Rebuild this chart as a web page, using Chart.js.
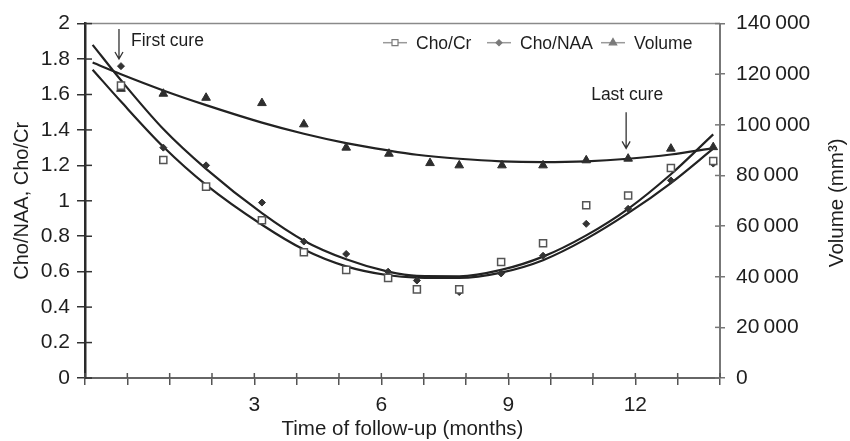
<!DOCTYPE html>
<html>
<head>
<meta charset="utf-8">
<script src="https://cdn.jsdelivr.net/npm/chart.js@4.4.1/dist/chart.umd.min.js"></script>
<style>
  html, body { margin: 0; padding: 0; background: #fff; }
  #wrap { width: 850px; height: 441px; }
</style>
</head>
<body>
<div id="wrap"><canvas id="chart"></canvas></div>
<script>
// Measured points (months of follow-up)
const choMonths = [-0.15, 0.85, 1.86, 3.18, 4.17, 5.17, 6.16, 6.84, 7.84, 8.83, 9.82, 10.84, 11.83, 12.84, 13.84];
const volMonths = [-0.15, 0.85, 1.86, 3.18, 4.17, 5.17, 6.18, 7.15, 7.84, 8.85, 9.82, 10.84, 11.83, 12.84, 13.84];
const choCr  = [1.65, 1.23, 1.08, 0.89, 0.71, 0.61, 0.565, 0.50, 0.50, 0.655, 0.76, 0.975, 1.03, 1.185, 1.225];
const choNaa = [1.76, 1.30, 1.20, 0.99, 0.77, 0.70, 0.60, 0.55, 0.485, 0.59, 0.69, 0.87, 0.955, 1.115, 1.21];
const volume = [114250, 112300, 110700, 108600, 100200, 91000, 88600, 84900, 84000, 84000, 84000, 86000, 86650, 90600, 91200];

// Trend lines
const trendMonths  = [-0.82, -0.15, 0.85, 1.86, 3.18, 4.17, 5.17, 6.16, 6.84, 7.84, 8.83, 9.82, 10.84, 11.83, 12.84, 13.84];
const choCrTrend   = [1.74, 1.56, 1.305, 1.09, 0.865, 0.725, 0.63, 0.58, 0.567, 0.565, 0.595, 0.665, 0.785, 0.93, 1.10, 1.294];
const choNaaTrend  = [1.88, 1.68, 1.405, 1.18, 0.93, 0.775, 0.67, 0.60, 0.576, 0.574, 0.61, 0.685, 0.805, 0.955, 1.15, 1.375];
const volumeTrend  = [124600, 120000, 113600, 107800, 100900, 96500, 92800, 89900, 88200, 86600, 85600, 85300, 85600, 86600, 88300, 90800];

const xTickLabels = [3, 6, 9, 12];

const FONT = 'Liberation Sans, Arial, Helvetica, sans-serif';
const TEXT = '#1e1e1e';

function pts(xs, ys) {
    return xs.map((x, i) => ({ x: x, y: ys[i] }));
}

function fmtThousands(v) {
    return String(v).replace(/\B(?=(\d{3})+(?!\d))/g, '\u2009');
}

// Arrows for first / last cure
const notes = [
    { text: 'First cure', month: -0.15, top: 1.97, tip: 1.80, textY: 1.899, side: 'right' },
    { text: 'Last cure', month: 11.83, top: 1.50, tip: 1.296, textY: 1.594, side: 'above' }
];

const decor = {
    id: 'decor',
    afterDatasetsDraw(chart) {
        const ctx = chart.ctx;
        const area = chart.chartArea;
        const x = chart.scales.x, y = chart.scales.y, y2 = chart.scales.y2;
        ctx.save();

        // top frame line
        ctx.strokeStyle = '#8a8a8a';
        ctx.lineWidth = 1.5;
        ctx.beginPath();
        ctx.moveTo(area.left, area.top);
        ctx.lineTo(area.right, area.top);
        ctx.stroke();

        // inner halves of the cross tick marks
        ctx.lineWidth = 1.5;
        ctx.strokeStyle = '#555';
        x.ticks.forEach(t => {
            const px = x.getPixelForValue(t.value);
            ctx.beginPath();
            ctx.moveTo(px, area.bottom);
            ctx.lineTo(px, area.bottom - 5);
            ctx.stroke();
        });
        ctx.strokeStyle = '#333';
        y.ticks.forEach(t => {
            const py = y.getPixelForValue(t.value);
            ctx.beginPath();
            ctx.moveTo(area.left, py);
            ctx.lineTo(area.left + 7, py);
            ctx.stroke();
        });
        ctx.strokeStyle = '#777';
        y2.ticks.forEach(t => {
            const py = y2.getPixelForValue(t.value);
            ctx.beginPath();
            ctx.moveTo(area.right, py);
            ctx.lineTo(area.right - 5, py);
            ctx.stroke();
        });

        // legend: short line with marker, Excel style
        const legendX = [383, 487, 601];
        const legendY = 42.7;
        ctx.font = '17.5px ' + FONT;
        ctx.textBaseline = 'middle';
        ctx.textAlign = 'left';
        [0, 1, 2].forEach((di, i) => {
            const ds = chart.data.datasets[di];
            const lx = legendX[i];
            ctx.strokeStyle = '#9a9a9a';
            ctx.lineWidth = 1.5;
            ctx.beginPath();
            ctx.moveTo(lx, legendY);
            ctx.lineTo(lx + 24, legendY);
            ctx.stroke();
            ctx.strokeStyle = '#7a7a7a';
            ctx.fillStyle = ds.pointStyle === 'rect' ? '#fff' : '#7a7a7a';
            ctx.lineWidth = 1.2;
            Chart.helpers.drawPoint(ctx, {
                pointStyle: ds.pointStyle,
                radius: ds.pointRadius * 0.85,
                rotation: 0,
                borderWidth: 1.2
            }, lx + 12, legendY);
            ctx.fillStyle = TEXT;
            ctx.fillText(ds.label, lx + 33, legendY + 1);
        });

        // cure annotations
        ctx.strokeStyle = '#333';
        ctx.fillStyle = TEXT;
        ctx.lineWidth = 1.3;
        notes.forEach(n => {
            const ax = x.getPixelForValue(n.month) - 2;
            const yTop = y.getPixelForValue(n.top);
            const yTip = y.getPixelForValue(n.tip);
            ctx.beginPath();
            ctx.moveTo(ax, yTop);
            ctx.lineTo(ax, yTip);
            ctx.moveTo(ax - 4, yTip - 7);
            ctx.lineTo(ax, yTip);
            ctx.lineTo(ax + 4, yTip - 7);
            ctx.stroke();
            const ty = y.getPixelForValue(n.textY);
            if (n.side === 'right') {
                ctx.textAlign = 'left';
                ctx.fillText(n.text, ax + 12, ty);
            } else {
                ctx.textAlign = 'center';
                ctx.fillText(n.text, ax + 1, ty);
            }
        });

        // right axis title, reading bottom to top
        ctx.translate(area.right + 117, (area.top + area.bottom) / 2 + 2);
        ctx.rotate(-Math.PI / 2);
        ctx.textAlign = 'center';
        ctx.font = '20.5px ' + FONT;
        ctx.fillText('Volume (mm\u00B3)', 0, 0);
        ctx.restore();
    }
};

const trendStyle = {
    showLine: true,
    pointRadius: 0,
    pointHoverRadius: 0,
    borderColor: '#222',
    borderWidth: 2.2,
    cubicInterpolationMode: 'monotone',
    fill: false,
    order: 2
};

new Chart(document.getElementById('chart'), {
    type: 'scatter',
    data: {
        datasets: [
            {
                label: 'Cho/Cr',
                data: pts(choMonths, choCr),
                pointStyle: 'rect',
                pointRadius: 5,
                borderColor: '#555',
                backgroundColor: '#fff',
                borderWidth: 1.5,
                yAxisID: 'y',
                order: 0
            },
            {
                label: 'Cho/NAA',
                data: pts(choMonths, choNaa),
                pointStyle: 'rectRot',
                pointRadius: 3.5,
                borderColor: '#333',
                backgroundColor: '#333',
                borderWidth: 1,
                yAxisID: 'y',
                order: 0
            },
            {
                label: 'Volume',
                data: pts(volMonths, volume),
                pointStyle: 'triangle',
                pointRadius: 5,
                borderColor: '#2e2e2e',
                backgroundColor: '#2e2e2e',
                borderWidth: 1,
                yAxisID: 'y2',
                order: 0
            },
            Object.assign({ label: 'Cho/Cr trend', data: pts(trendMonths, choCrTrend), yAxisID: 'y' }, trendStyle),
            Object.assign({ label: 'Cho/NAA trend', data: pts(trendMonths, choNaaTrend), yAxisID: 'y' }, trendStyle),
            Object.assign({ label: 'Volume trend', data: pts(trendMonths, volumeTrend), yAxisID: 'y2' }, trendStyle)
        ]
    },
    options: {
        responsive: true,
        maintainAspectRatio: false,
        animation: false,
        layout: { padding: { top: 23, left: 0, right: 0, bottom: 0 } },
        plugins: {
            legend: { display: false },
            tooltip: { enabled: false }
        },
        scales: {
            x: {
                type: 'linear',
                min: -1,
                max: 14,
                ticks: {
                    stepSize: 1,
                    autoSkip: false,
                    maxRotation: 0,
                    padding: 8,
                    color: TEXT,
                    font: { family: FONT, size: 21 },
                    callback: v => xTickLabels.includes(v) ? String(v) : ''
                },
                grid: { drawOnChartArea: false, drawTicks: true, tickLength: 7, color: '#555', lineWidth: 1.5 },
                border: { color: '#666', width: 2 },
                title: {
                    display: true,
                    text: 'Time of follow-up (months)',
                    color: TEXT,
                    font: { family: FONT, size: 20.5, lineHeight: 1 },
                    padding: { top: 0, bottom: 1 }
                },
                afterFit: s => { s.height = 63; }
            },
            y: {
                position: 'left',
                min: 0,
                max: 2,
                ticks: {
                    stepSize: 0.2,
                    padding: 7,
                    color: TEXT,
                    font: { family: FONT, size: 21 },
                    callback: v => String(Number(v.toFixed(1)))
                },
                grid: { drawOnChartArea: false, drawTicks: true, tickLength: 8, color: '#333', lineWidth: 1.5 },
                border: { color: '#2a2a2a', width: 2.5 },
                title: {
                    display: true,
                    text: 'Cho/NAA, Cho/Cr',
                    color: TEXT,
                    font: { family: FONT, size: 20 },
                    padding: { top: 10, bottom: 0 }
                },
                afterFit: s => { s.width = 85; }
            },
            y2: {
                position: 'right',
                min: 0,
                max: 140000,
                ticks: {
                    stepSize: 20000,
                    padding: 11,
                    color: TEXT,
                    font: { family: FONT, size: 21 },
                    callback: v => fmtThousands(v)
                },
                grid: { drawOnChartArea: false, drawTicks: true, tickLength: 5, color: '#777', lineWidth: 1.5 },
                border: { color: '#777', width: 2 },
                afterFit: s => { s.width = 130; }
            }
        }
    },
    plugins: [decor]
});
</script>
</body>
</html>
